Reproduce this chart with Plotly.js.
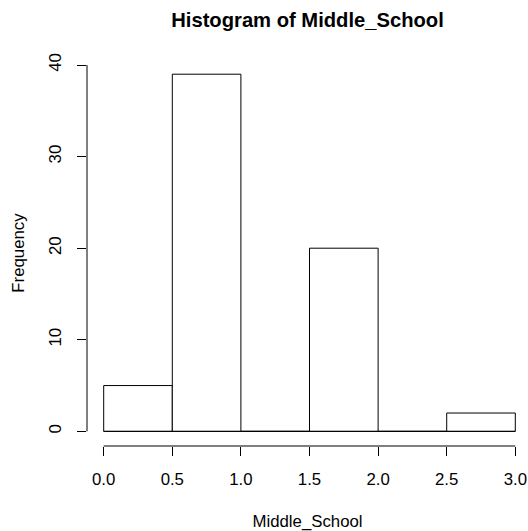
<!DOCTYPE html>
<html>
<head>
<meta charset="utf-8">
<script src="https://cdn.plot.ly/plotly-3.0.1.min.js"></script>
<style>html,body{margin:0;padding:0;background:#fff;}#chart{width:528px;height:531px;}</style>
</head>
<body>
<div id="chart"></div>
<script>
// Data
const binStarts = [0.0, 0.5, 1.0, 1.5, 2.0, 2.5];
const binWidth = 0.5;
const counts = [5, 39, 0, 20, 0, 2];
const xTickVals = [0, 0.5, 1.0, 1.5, 2.0, 2.5, 3.0];
const xTickText = ["0.0", "0.5", "1.0", "1.5", "2.0", "2.5", "3.0"];
const yTickVals = [0, 10, 20, 30, 40];
const yTickText = ["0", "10", "20", "30", "40"];

const centers = binStarts.map(s => s + binWidth / 2);
const lastEdge = binStarts[binStarts.length - 1] + binWidth;
const font = "Liberation Sans, Arial, Helvetica, sans-serif";
const fs = 16.8;

const traces = [
  {type: "bar", x: centers, y: counts, width: binStarts.map(() => binWidth),
   marker: {color: "#ffffff", line: {color: "#000000", width: 1}}, hoverinfo: "x+y", showlegend: false},
  {type: "scatter", mode: "lines", x: [binStarts[0], lastEdge], y: [0, 0],
   line: {color: "#000000", width: 1}, hoverinfo: "skip", showlegend: false}
];

const layout = {
  width: 528, height: 531,
  margin: {l: 87, r: 0, t: 60, b: 85},
  paper_bgcolor: "#ffffff", plot_bgcolor: "#ffffff",
  font: {family: font, size: fs, color: "#000000"},
  title: {text: "<b>Histogram of Middle_School</b>", font: {family: font, size: 20.2, color: "#000000"},
    x: 0.5, xref: "paper", y: 1 - 20 / 531, yref: "container", yanchor: "middle"},
  xaxis: {range: [-0.1217, 3.0925], tickmode: "array", tickvals: xTickVals, ticktext: xTickText,
    ticks: "outside", ticklen: 9, tickwidth: 1, tickcolor: "#000000", showline: false, showgrid: false, zeroline: false,
    tickfont: {family: font, size: fs, color: "#000000"}, ticklabelstandoff: 9,
    title: {text: "Middle_School", font: {family: font, size: fs, color: "#000000"}, standoff: 27}},
  yaxis: {range: [-1.6, 40.55], tickmode: "array", tickvals: yTickVals, ticktext: yTickText, tickangle: -90,
    ticks: "outside", ticklen: 9, tickwidth: 1, tickcolor: "#000000", showline: false, showgrid: false, zeroline: false,
    tickfont: {family: font, size: fs, color: "#000000"}, ticklabelstandoff: 9,
    title: {text: "Frequency", font: {family: font, size: fs, color: "#000000"}, standoff: 16.5}},
  shapes: [
    {type: "line", xref: "x", yref: "paper", x0: xTickVals[0], x1: xTickVals[xTickVals.length - 1], y0: 0, y1: 0, line: {color: "#000000", width: 1}},
    {type: "line", xref: "paper", yref: "y", x0: 0, x1: 0, y0: yTickVals[0], y1: yTickVals[yTickVals.length - 1], line: {color: "#000000", width: 1}}
  ],
  bargap: 0
};

Plotly.newPlot("chart", traces, layout, {displayModeBar: false, staticPlot: true});
</script>
</body>
</html>
